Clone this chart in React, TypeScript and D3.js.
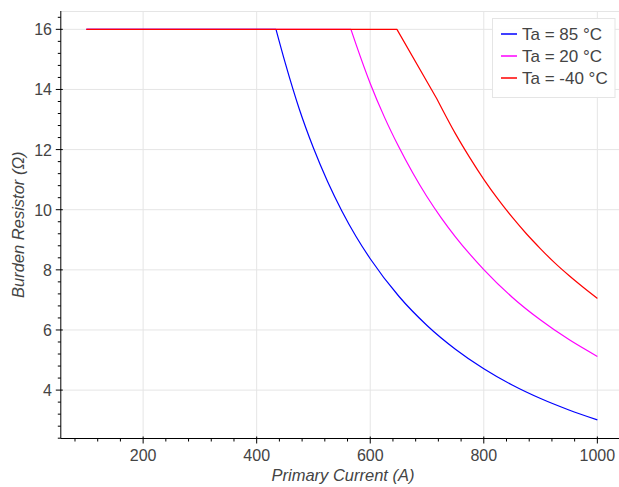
import React, { useEffect, useRef } from 'react';
import * as d3 from 'd3';

// Primary current (A) / burden resistor (Ω)
const current85 = [100, 434, 450, 475, 500, 525, 550, 575, 600, 650, 700, 750, 800, 850, 900, 950, 1000];
const burden85 = [16, 16, 14.9, 13.35, 12.05, 10.93, 9.96, 9.11, 8.37, 7.13, 6.15, 5.36, 4.71, 4.17, 3.72, 3.34, 3.01];

const current20 = [100, 566, 575, 600, 625, 650, 675, 700, 725, 750, 775, 800, 850, 900, 950, 1000];
const burden20 = [16, 16, 15.5, 14.2, 13.08, 12.1, 11.22, 10.43, 9.73, 9.1, 8.53, 8.01, 7.09, 6.33, 5.68, 5.12];

const currentM40 = [100, 647, 717, 750, 775, 800, 825, 850, 875, 900, 925, 950, 975, 1000];
const burdenM40 = [16, 16, 13.7, 12.53, 11.74, 11.01, 10.35, 9.75, 9.2, 8.7, 8.23, 7.81, 7.42, 7.05];

// index of the last sharp corner in each series (curve is smooth after it)
const cornerIndex = [1, 1, 2];

const seriesNames = ['Ta = 85 °C', 'Ta = 20 °C', 'Ta = -40 °C'];
const seriesColors = ['#0000ff', '#ff00ff', '#ff0000'];

const xMajor = [200, 400, 600, 800, 1000];
const yMajor = [4, 6, 8, 10, 12, 14, 16];

const W = 619;
const H = 487;

const App = () => {
  const ref = useRef(null);

  useEffect(() => {
    if (!ref.current) return;
    const svg = d3.select(ref.current);
    svg.selectAll('*').remove();

    const x = d3.scaleLinear().domain([55, 1045]).range([60.8, 622.9]);
    const y = d3.scaleLinear().domain([2.39, 16.61]).range([438.5, 11]);
    const left = x(55);
    const bottom = y(2.39);
    const top = y(16.61);
    const font = 'Liberation Sans, Arial, Helvetica, sans-serif';

    // outline + grid
    svg.append('line')
      .attr('x1', left).attr('x2', W).attr('y1', top + 0.5).attr('y2', top + 0.5)
      .attr('stroke', '#e5e5e5');
    svg.append('g').selectAll('line').data(xMajor).enter().append('line')
      .attr('x1', d => x(d)).attr('x2', d => x(d))
      .attr('y1', top).attr('y2', bottom)
      .attr('stroke', '#e5e5e5');
    svg.append('g').selectAll('line').data(yMajor).enter().append('line')
      .attr('x1', left).attr('x2', W)
      .attr('y1', d => y(d)).attr('y2', d => y(d))
      .attr('stroke', '#e5e5e5');

    // curves: straight up to the corner, smooth after it
    const straight = d3.line<[number, number]>()
      .x(d => x(d[0]))
      .y(d => y(d[1]));
    const smooth = d3.line<[number, number]>()
      .x(d => x(d[0]))
      .y(d => y(d[1]))
      .curve(d3.curveMonotoneX);
    const series = [
      d3.zip(current85, burden85),
      d3.zip(current20, burden20),
      d3.zip(currentM40, burdenM40),
    ] as [number, number][][];
    series.forEach((pts, i) => {
      const k = cornerIndex[i];
      const head = straight(pts.slice(0, k + 1)) || '';
      const tail = (smooth(pts.slice(k)) || '').replace(/^M[^A-Za-z]*/, '');
      svg.append('path')
        .attr('d', head + tail)
        .attr('fill', 'none')
        .attr('stroke', seriesColors[i])
        .attr('stroke-width', 1.2)
        .attr('stroke-linejoin', 'round');
    });

    // x axis
    const xMinor = d3.range(80, 1041, 40).filter(v => !xMajor.includes(v));
    const xa = svg.append('g');
    xa.append('line')
      .attr('x1', left).attr('x2', W).attr('y1', bottom).attr('y2', bottom)
      .attr('stroke', '#000');
    xa.selectAll('.minor').data(xMinor).enter().append('line')
      .attr('x1', d => x(d)).attr('x2', d => x(d))
      .attr('y1', bottom).attr('y2', bottom + 3)
      .attr('stroke', '#000');
    xa.selectAll('.major').data(xMajor).enter().append('line')
      .attr('x1', d => x(d)).attr('x2', d => x(d))
      .attr('y1', bottom - 2).attr('y2', bottom + 5)
      .attr('stroke', '#000');
    xa.selectAll('text').data(xMajor).enter().append('text')
      .attr('x', d => x(d)).attr('y', 461)
      .attr('text-anchor', 'middle')
      .attr('font-family', font).attr('font-size', 16)
      .attr('fill', '#444')
      .text(d => d);
    svg.append('text')
      .attr('x', 343).attr('y', 481)
      .attr('text-anchor', 'middle')
      .attr('font-family', font).attr('font-size', 16.5)
      .attr('font-style', 'italic')
      .attr('fill', '#444')
      .text('Primary Current (A)');

    // y axis
    const yMinor = d3.range(24, 165, 4).map(v => v / 10).filter(v => !yMajor.includes(v));
    const ya = svg.append('g');
    ya.append('line')
      .attr('x1', left).attr('x2', left).attr('y1', top).attr('y2', bottom)
      .attr('stroke', '#000');
    ya.selectAll('.minor').data(yMinor).enter().append('line')
      .attr('x1', left - 3).attr('x2', left)
      .attr('y1', d => y(d)).attr('y2', d => y(d))
      .attr('stroke', '#000');
    ya.selectAll('.major').data(yMajor).enter().append('line')
      .attr('x1', left - 5).attr('x2', left + 2)
      .attr('y1', d => y(d)).attr('y2', d => y(d))
      .attr('stroke', '#000');
    ya.selectAll('text').data(yMajor).enter().append('text')
      .attr('x', 52).attr('y', d => y(d) + 6)
      .attr('text-anchor', 'end')
      .attr('font-family', font).attr('font-size', 16)
      .attr('fill', '#444')
      .text(d => d);
    svg.append('text')
      .attr('transform', `translate(24, ${(top + bottom) / 2}) rotate(-90)`)
      .attr('text-anchor', 'middle')
      .attr('font-family', font).attr('font-size', 16.5)
      .attr('font-style', 'italic')
      .attr('fill', '#444')
      .text('Burden Resistor (Ω)');

    // legend
    const lg = svg.append('g');
    lg.append('rect')
      .attr('x', 492.5).attr('y', 18.5).attr('width', 122.5).attr('height', 79)
      .attr('fill', '#fff').attr('fill-opacity', 0.95)
      .attr('stroke', '#e5e5e5');
    seriesNames.forEach((name, i) => {
      const ly = 34 + i * 22;
      lg.append('line')
        .attr('x1', 501).attr('x2', 517).attr('y1', ly).attr('y2', ly)
        .attr('stroke', seriesColors[i]).attr('stroke-width', 1.5);
      lg.append('text')
        .attr('x', 522).attr('y', ly + 6)
        .attr('font-family', font).attr('font-size', 17)
        .attr('fill', '#444')
        .text(name);
    });
  }, []);

  return (
    <svg
      ref={ref}
      width={W}
      height={H}
      style={{ position: 'absolute', left: 0, top: 0, background: '#fff' }}
    />
  );
};

export default App;
